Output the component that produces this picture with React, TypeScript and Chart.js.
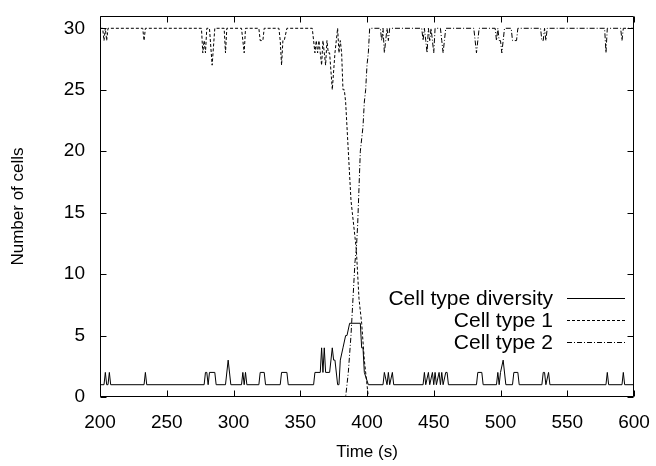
import { useEffect, useRef } from "react";
import { Chart, registerables } from "chart.js";

Chart.register(...registerables);

const FONT = '"Liberation Sans", Arial, Helvetica, sans-serif';

const timeTicks = [200, 250, 300, 350, 400, 450, 500, 550, 600];
const countTicks = [0, 5, 10, 15, 20, 25, 30];
const seriesLabels = ["Cell type diversity", "Cell type 1", "Cell type 2"];

// [time (s), value]
const diversity: [number, number][] = [
  [200, 1], [203, 1], [204, 2], [205, 1], [206, 1], [207, 2], [208, 1],
  [233, 1], [234, 2], [235, 1],
  [278, 1], [279, 2], [280, 2], [281, 1], [282, 2], [286, 2], [287, 1],
  [294, 1], [296, 3], [298, 1],
  [306, 1], [307, 2], [308, 1], [309, 2], [310, 1],
  [319, 1], [320, 2], [323, 2], [324, 1],
  [335, 1], [336, 2], [340, 2], [341, 1],
  [360, 1], [361, 2], [365, 2], [366, 4], [367, 2], [368, 4], [369, 2], [372, 2], [374, 4], [375, 3], [376, 3],
  [378, 1], [379, 1], [380, 3], [382, 4], [384, 5], [385, 5], [387, 6], [395, 6], [396, 4], [397, 4], [398, 2], [401, 1],
  [412, 1], [413, 2], [415, 1], [416, 2], [417, 1], [419, 2], [420, 1],
  [442, 1], [443, 2], [444, 1], [446, 2], [447, 1], [449, 2], [450, 1], [451, 2], [452, 1], [454, 2], [455, 1],
  [456, 2], [457, 1], [459, 2], [460, 2], [461, 1],
  [482, 1], [483, 2], [486, 2], [487, 1],
  [497, 1], [498, 2], [499, 1], [500, 2], [502, 3], [504, 1],
  [509, 1], [510, 2], [513, 2], [514, 1],
  [531, 1], [532, 2], [533, 2], [534, 1], [536, 2], [537, 1],
  [579, 1], [580, 2], [581, 1],
  [591, 1], [592, 2], [593, 1],
  [600, 1],
];

const cellType1: [number, number][] = [
  [200, 30], [202, 30], [203, 29], [204, 30], [205, 29], [206, 30],
  [232, 30], [233, 29], [234, 30],
  [276, 30], [277, 28], [278, 29], [279, 28], [280, 30],
  [282, 30], [284, 27], [286, 30],
  [293, 30], [294, 28], [295, 30],
  [306, 30], [307, 29], [308, 28], [309, 30],
  [319, 30], [320, 29], [322, 29], [323, 30],
  [334, 30], [335, 29], [336, 27], [337, 29], [338, 29], [340, 30],
  [359, 30], [360, 29], [361, 28], [362, 29], [363, 28], [364, 29], [365, 28], [366, 27], [367, 29], [368, 28],
  [369, 27], [370, 29], [371, 28], [372, 28], [374, 25], [376, 28], [377, 29], [378, 30], [379, 28], [380, 29],
  [381, 28], [382, 25], [383, 25], [384, 24], [385, 22], [386, 20], [387, 18], [388, 16], [389, 15], [390, 14],
  [391, 13], [392, 12], [393, 10], [394, 8], [396, 6], [398, 3], [400, 1], [401, 0],
  [600, 0],
];

const cellType2: [number, number][] = [
  [200, 0], [384, 0], [386, 2], [388, 5], [389, 7], [390, 9], [391, 11], [392, 12], [393, 14], [394, 17],
  [395, 20], [396, 21], [397, 22], [398, 24], [399, 25], [400, 27], [401, 28], [402, 30],
  [410, 30], [411, 29], [412, 30], [413, 28], [414, 29], [415, 30], [416, 29], [417, 30],
  [441, 30], [442, 29], [443, 30], [444, 29], [445, 28], [446, 30], [447, 29], [448, 30], [449, 29], [450, 28], [451, 30],
  [455, 30], [456, 29], [457, 28], [458, 29], [459, 30],
  [480, 30], [481, 29], [482, 28], [483, 29], [484, 30],
  [496, 30], [497, 29], [498, 30], [499, 29], [500, 29], [501, 28], [502, 29], [503, 30],
  [508, 30], [509, 29], [512, 29], [513, 30],
  [530, 30], [531, 29], [532, 29], [533, 30], [534, 29], [535, 30],
  [578, 30], [579, 28], [580, 30],
  [590, 30], [591, 29], [592, 30],
  [600, 30],
];

const toPoints = (arr: [number, number][]) => arr.map(([x, y]) => ({ x, y }));

const gnuFrame = {
  id: "gnuFrame",
  afterDatasetsDraw(chart: any) {
    const { ctx, chartArea: a, scales } = chart;
    const xs = scales.x;
    const ys = scales.y;
    const tl = 6;
    ctx.save();
    ctx.strokeStyle = "#000";
    ctx.lineWidth = 1;
    ctx.setLineDash([]);
    const L = Math.round(a.left) + 0.5;
    const R = Math.round(a.right) - 0.5;
    const T = Math.round(a.top) + 0.5;
    const B = Math.round(a.bottom) - 0.5;
    ctx.beginPath();
    ctx.rect(L, T, R - L, B - T);
    for (const v of countTicks) {
      const y = Math.round(ys.getPixelForValue(v)) + 0.5;
      ctx.moveTo(L, y); ctx.lineTo(L + tl, y);
      ctx.moveTo(R, y); ctx.lineTo(R - tl, y);
    }
    for (const v of timeTicks) {
      const x = Math.round(xs.getPixelForValue(v)) + 0.5;
      ctx.moveTo(x, B); ctx.lineTo(x, B - tl);
      ctx.moveTo(x, T); ctx.lineTo(x, T + tl);
    }
    ctx.stroke();

    // legend (gnuplot style: text right-aligned, sample to its right)
    ctx.font = `21px ${FONT}`;
    ctx.fillStyle = "#000";
    ctx.textAlign = "right";
    ctx.textBaseline = "middle";
    const textRight = a.right - 81;
    const lineStart = a.right - 67;
    const lineEnd = a.right - 9;
    chart.data.datasets.forEach((ds: any, i: number) => {
      const y = Math.round(a.bottom - 99 + i * 22) + 0.5;
      ctx.fillText(ds.label, textRight, y + 1);
      ctx.beginPath();
      ctx.setLineDash(ds.borderDash || []);
      ctx.moveTo(lineStart, y);
      ctx.lineTo(lineEnd, y);
      ctx.stroke();
    });
    ctx.restore();
  },
};

export default function App() {
  const ref = useRef<HTMLCanvasElement | null>(null);
  useEffect(() => {
    document.body.style.margin = "0";
    const canvas = ref.current;
    if (!canvas) return;
    const common = {
      borderColor: "#000",
      borderWidth: 1,
      pointRadius: 0,
      fill: false,
      tension: 0,
    };
    const chart = new Chart(canvas, {
      type: "line",
      data: {
        datasets: [
          { ...common, label: seriesLabels[0], data: toPoints(diversity), borderDash: [] },
          { ...common, label: seriesLabels[1], data: toPoints(cellType1), borderDash: [3, 2] },
          { ...common, label: seriesLabels[2], data: toPoints(cellType2), borderDash: [5, 2, 1, 2] },
        ],
      },
      options: {
        animation: false,
        responsive: false,
        devicePixelRatio: 1,
        layout: { padding: { top: 16, right: 22, left: 0, bottom: 0 } },
        plugins: { legend: { display: false }, tooltip: { enabled: false } },
        scales: {
          x: {
            type: "linear",
            min: 200,
            max: 600,
            afterBuildTicks: (s: any) => { s.ticks = timeTicks.map((v) => ({ value: v })); },
            afterFit: (s: any) => { s.height = 69; s.paddingLeft = 0; s.paddingRight = 0; },
            grid: { display: false, drawTicks: false },
            border: { display: false },
            ticks: { color: "#000", font: { family: FONT, size: 19 }, padding: 14, maxRotation: 0, autoSkip: false },
            title: { display: true, text: "Time (s)", color: "#000", font: { family: FONT, size: 17 }, padding: { top: 0, bottom: 3 } },
          },
          y: {
            type: "linear",
            min: 0,
            max: 31,
            afterBuildTicks: (s: any) => { s.ticks = countTicks.map((v) => ({ value: v })); },
            afterFit: (s: any) => { s.width = 100; s.paddingTop = 0; s.paddingBottom = 0; },
            grid: { display: false, drawTicks: false },
            border: { display: false },
            ticks: { color: "#000", font: { family: FONT, size: 19 }, padding: 15 },
            title: { display: true, text: "Number of cells", color: "#000", font: { family: FONT, size: 17 }, padding: { top: 8, bottom: 0 } },
          },
        },
      },
      plugins: [gnuFrame],
    } as any);
    return () => chart.destroy();
  }, []);
  return (
    <div style={{ position: "absolute", left: 0, top: 0, width: 656, height: 466 }}>
      <canvas ref={ref} width={656} height={466} style={{ width: 656, height: 466, display: "block" }} />
    </div>
  );
}
